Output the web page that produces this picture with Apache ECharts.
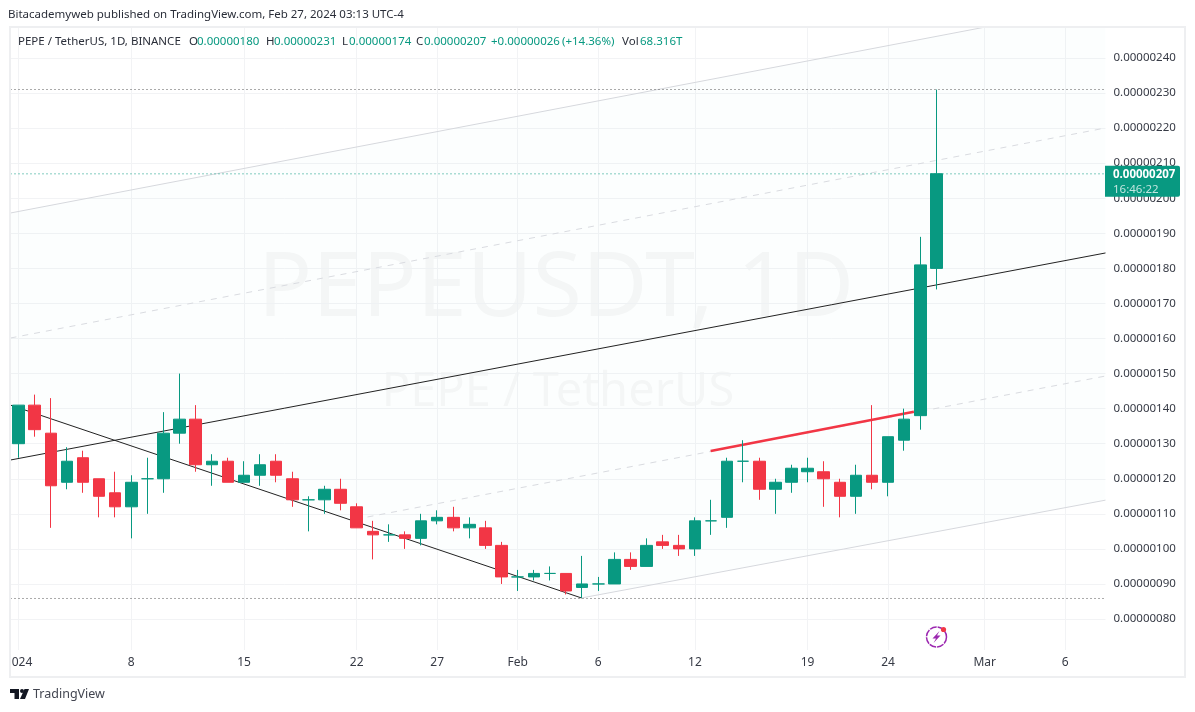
<!DOCTYPE html>
<html lang="en">
<head>
	<meta charset="UTF-8">
	<title>PEPE / TetherUS</title>
	<style>
		html, body { margin: 0; padding: 0; background: #fff; }
		#main { width: 1195px; height: 712px; }
	</style>
</head>
<body>
	<div id="main"></div>
	<script src="https://cdn.jsdelivr.net/npm/echarts@6/dist/echarts.min.js"></script>
	<script>
		// prices are in units of 0.00000001
		var days = [
			'01-01','01-02','01-03','01-04','01-05','01-06','01-07','01-08','01-09','01-10','01-11','01-12','01-13','01-14','01-15','01-16',
			'01-17','01-18','01-19','01-20','01-21','01-22','01-23','01-24','01-25','01-26','01-27','01-28','01-29','01-30','01-31',
			'02-01','02-02','02-03','02-04','02-05','02-06','02-07','02-08','02-09','02-10','02-11','02-12','02-13','02-14','02-15','02-16',
			'02-17','02-18','02-19','02-20','02-21','02-22','02-23','02-24','02-25','02-26','02-27','02-28','02-29',
			'03-01','03-02','03-03','03-04','03-05','03-06','03-07','03-08'
		];
		var opens  = [130,141,133,119,126,120,116,112,120,120,133,137,124,125,119,121,125,120,114,114,117,112,105,104,104,103,108,109,106,106,101,92,92,93,93,89,90,90,97,95,102,101,100,108,109,125,125,117,119,122,122,119,115,121,119,131,138,180];
		var highs  = [141,144,143,129,128,120,122,121,126,139,150,141,127,126,125,127,127,122,115,118,120,113,108,107,105,110,111,112,109,108,102,94,94,95,93,98,92,99,99,103,104,104,109,114,126,131,126,120,124,126,125,120,124,141,132,140,189,231];
		var lows   = [126,132,106,117,116,109,109,103,110,116,130,122,118,119,119,118,119,112,105,110,111,106,97,102,100,101,107,105,103,100,90,88,91,91,87,86,88,90,94,95,100,98,98,104,106,119,114,110,116,119,112,109,110,117,115,128,134,174];
		var closes = [141,134,118,125,119,115,112,119,120,133,137,124,125,119,121,124,121,114,114,117,113,106,104,104,103,108,109,106,107,101,92,92,93,93,88,90,90,97,95,101,101,100,108,108,125,125,117,119,123,123,120,115,121,119,132,137,181,207];

		var yTicks = [80,90,100,110,120,130,140,150,160,170,180,190,200,210,220,230,240];
		var xTickLabels = { '01-01':'2024', '01-08':'8', '01-15':'15', '01-22':'22', '01-27':'27', '02-01':'Feb', '02-06':'6', '02-12':'12', '02-19':'19', '02-24':'24', '03-01':'Mar', '03-06':'6' };

		// drawings, x is the day index, y is the price
		var upperLineX = [-0.5, 60.05],  upperLineY = [195.8, 248.85];
		var upperDashX = [-0.5, 67.5],   upperDashY = [160.15, 220.05];
		var medianX    = [-0.5, 67.5],   medianY    = [125.35, 184.4];
		var lowerDashX = [21.67, 67.5],  lowerDashY = [109.1, 149.3];
		var lowerLineX = [34.96, 67.5],  lowerLineY = [86, 113.9];
		var downLineX  = [-0.5, 34.96],  downLineY  = [141, 86];
		var redLineX   = [42.98, 55.6],  redLineY   = [127.9, 139.1];
		var highLevel  = 231.02, lowLevel = 85.85, lastLevel = 206.97;
		var fullX = [-0.5, 67.5];
		var fillX = [-0.5, 60.05, 67.5, 67.5, 34.96, -0.5];
		var fillY = [195.8, 248.85, 248.85, 113.9, 86, 141];

		var headerTokens = [
			{ x: 18,  text: 'PEPE / TetherUS, 1D, BINANCE', green: false },
			{ x: 189, text: 'O', green: false },
			{ x: 197, text: '0.00000180', green: true },
			{ x: 266, text: 'H', green: false },
			{ x: 274, text: '0.00000231', green: true },
			{ x: 342, text: 'L', green: false },
			{ x: 349, text: '0.00000174', green: true },
			{ x: 416, text: 'C', green: false },
			{ x: 424, text: '0.00000207', green: true },
			{ x: 491, text: '+0.00000026', green: true },
			{ x: 562, text: '(+14.36%)', green: true },
			{ x: 622, text: 'Vol', green: false },
			{ x: 640, text: '68.316T', green: true }
		];

		var GREEN = '#089981', RED = '#F23645', TEXT = '#363a45', GRID = '#f2f3f5';
		var FONT = '"Noto Sans", sans-serif';

		function priceLabel(v) {
			return (v / 1e8).toFixed(8);
		}

		function pairs(xs, ys) {
			return xs.map(function(x, i) { return [x, ys[i]]; });
		}

		function drawing(xs, ys, color, type, width) {
			return {
				type: 'line',
				xAxisIndex: 1,
				yAxisIndex: 0,
				data: pairs(xs, ys),
				symbol: 'none',
				silent: true,
				z: 3,
				lineStyle: { color: color, type: type, width: width || 1 }
			};
		}

		var candles = opens.map(function(o, i) {
			return [o, closes[i], lows[i], highs[i]];
		});

		var series = [
			{
				type: 'custom',
				xAxisIndex: 1,
				yAxisIndex: 0,
				silent: true,
				z: 1,
				data: [0],
				renderItem: function(params, api) {
					return {
						type: 'polygon',
						shape: { points: pairs(fillX, fillY).map(function(p) { return api.coord(p); }) },
						style: { fill: 'rgba(8,153,129,0.012)' }
					};
				}
			},
			drawing(upperLineX, upperLineY, '#d6d8dd', 'solid'),
			drawing(upperDashX, upperDashY, '#d9dbe0', [6, 6]),
			drawing(medianX, medianY, '#222', 'solid'),
			drawing(lowerDashX, lowerDashY, '#d9dbe0', [6, 6]),
			drawing(lowerLineX, lowerLineY, '#d6d8dd', 'solid'),
			drawing(downLineX, downLineY, '#222', 'solid'),
			drawing(redLineX, redLineY, RED, 'solid', 2.5),
			drawing(fullX, [highLevel, highLevel], '#555', [1, 3]),
			drawing(fullX, [lowLevel, lowLevel], '#555', [1, 3]),
			drawing(fullX, [lastLevel, lastLevel], GREEN, [1, 3]),
			{
				type: 'candlestick',
				xAxisIndex: 0,
				yAxisIndex: 0,
				data: candles,
				barWidth: 12,
				z: 5,
				itemStyle: {
					color: GREEN,
					color0: RED,
					borderColor: GREEN,
					borderColor0: RED,
					borderColorDoji: GREEN,
					borderWidth: 1
				}
			}
		];

		var header = headerTokens.map(function(t) {
			return {
				type: 'text',
				z: 100,
				style: { x: t.x, y: 41.5, text: t.text, font: '11.5px ' + FONT, fill: t.green ? GREEN : '#2a2e39', textVerticalAlign: 'middle' }
			};
		});

		var graphics = header.concat([
			// frame, left piece also hides the start of the clipped year label
			{ type: 'rect', z: 99, shape: { x: 0, y: 27, width: 9, height: 650 }, style: { fill: '#fff' } },
			{ type: 'rect', z: 100, shape: { x: 10, y: 27, width: 1175, height: 650 }, style: { fill: 'none', stroke: '#eeeff1', lineWidth: 2 } },
			{ type: 'text', z: 100, style: { x: 8, y: 14.5, text: 'Bitacademyweb published on TradingView.com, Feb 27, 2024 03:13 UTC-4', font: '11.5px ' + FONT, fill: '#2a2e39', textVerticalAlign: 'middle' } },
			// watermark
			{ type: 'text', z: 0, style: { x: 556, y: 290, text: 'PEPEUSDT, 1D', font: '90px ' + FONT, fill: 'rgba(19,23,34,0.036)', textAlign: 'center', textVerticalAlign: 'middle' } },
			{ type: 'text', z: 0, style: { x: 558, y: 393, text: 'PEPE / TetherUS', font: '47px ' + FONT, fill: 'rgba(19,23,34,0.036)', textAlign: 'center', textVerticalAlign: 'middle' } },
			// logo
			{ type: 'polygon', z: 100, shape: { points: [[10,689],[19,689],[19,699],[14.5,699],[14.5,693],[10,693]] }, style: { fill: '#131722' } },
			{ type: 'circle', z: 100, shape: { cx: 22, cy: 691, r: 2 }, style: { fill: '#131722' } },
			{ type: 'polygon', z: 100, shape: { points: [[24.5,689],[29,689],[25,699],[20,699]] }, style: { fill: '#131722' } },
			{ type: 'text', z: 100, style: { x: 33, y: 694, text: 'TradingView', font: '12.5px ' + FONT, fill: '#434651', textVerticalAlign: 'middle' } },
			// energy icon
			{ type: 'circle', z: 100, shape: { cx: 936.5, cy: 637, r: 10 }, style: { fill: 'none', stroke: '#9c27b0', lineWidth: 1.5, lineDash: [7, 1] } },
			{ type: 'polygon', z: 100, shape: { points: [[939.5,631],[932.5,638.5],[936,638.5],[933.5,643],[940.5,635.5],[937,635.5]] }, style: { fill: '#9c27b0' } },
			{ type: 'circle', z: 100, shape: { cx: 943.5, cy: 629.5, r: 2.6 }, style: { fill: RED } }
		]);

		var myChart = echarts.init(document.getElementById('main'), null, { renderer: 'canvas' });
		var option = {
			animation: false,
			backgroundColor: '#fff',
			grid: { left: 10.5, top: 27, width: 1095, height: 623 },
			xAxis: [
				{
					type: 'category',
					data: days,
					boundaryGap: true,
					axisLine: { show: false },
					axisTick: { show: false },
					axisLabel: {
						color: TEXT,
						fontFamily: FONT,
						fontSize: 12,
						margin: 7,
						hideOverlap: false,
						interval: function(i, day) { return day in xTickLabels; },
						formatter: function(day) { return xTickLabels[day] || ''; }
					},
					splitLine: {
						show: true,
						alignWithLabel: true,
						interval: function(i, day) { return day in xTickLabels; },
						lineStyle: { color: GRID, width: 1 }
					}
				},
				{ type: 'value', show: false, min: -0.5, max: 67.5, splitLine: { show: false } }
			],
			yAxis: [
				{
					type: 'value',
					position: 'right',
					min: 71.16,
					max: 248.85,
					scale: true,
					axisLine: { show: false },
					axisTick: { show: false, customValues: yTicks },
					axisLabel: {
						customValues: yTicks,
						color: TEXT,
						fontFamily: FONT,
						fontSize: 11.5,
						margin: 8,
						padding: [4, 0, 0, 0],
						formatter: priceLabel
					},
					splitLine: { show: true, lineStyle: { color: GRID, width: 1 } }
				}
			],
			series: series,
			graphic: { elements: graphics }
		};

		myChart.setOption(option);

		// last price tag sits on the axis at the last close
		var tagY = myChart.convertToPixel({ yAxisIndex: 0 }, closes[closes.length - 1]);
		myChart.setOption({
			graphic: {
				elements: graphics.concat([
					{ type: 'rect', z: 101, shape: { x: 1105, y: tagY - 8, width: 75, height: 31, r: [0, 2, 2, 0] }, style: { fill: GREEN } },
					{ type: 'text', z: 102, style: { x: 1113, y: tagY + 0.5, text: priceLabel(closes[closes.length - 1]), font: 'bold 11.5px ' + FONT, fill: '#fff', textVerticalAlign: 'middle' } },
					{ type: 'text', z: 102, style: { x: 1113, y: tagY + 15.5, text: '16:46:22', font: '11.5px ' + FONT, fill: 'rgba(255,255,255,0.75)', textVerticalAlign: 'middle' } }
				])
			}
		});
	</script>
</body>
</html>
